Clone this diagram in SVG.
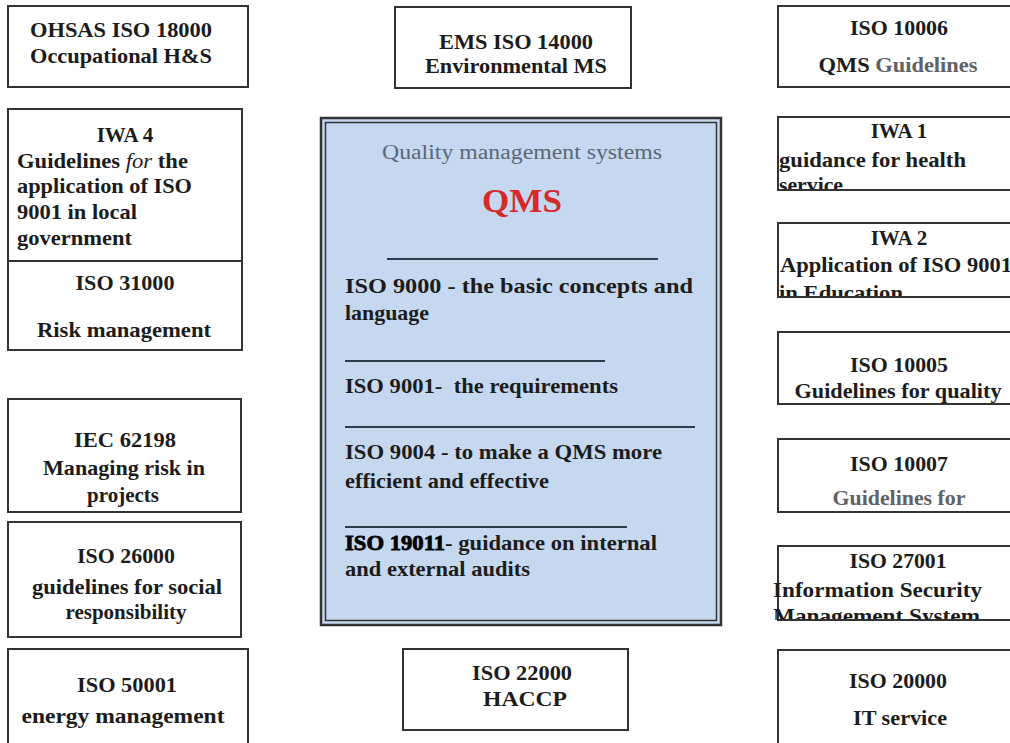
<svg xmlns="http://www.w3.org/2000/svg" width="1010" height="743" viewBox="0 0 1010 743">
<style>
.box{fill:#fff;stroke:#333;stroke-width:2}
.t{font-family:"Liberation Serif","Times New Roman",serif;font-weight:bold;font-size:21px;fill:#1c1c1c}
.c{text-anchor:middle}
.g{fill:#5f6266}
.q{font-family:"Liberation Serif","Times New Roman",serif;font-size:20px;fill:#5a6776;text-anchor:middle}
.qms{font-family:"Liberation Serif","Times New Roman",serif;font-weight:bold;font-size:34px;fill:#d42a2a;text-anchor:middle}
.sep{stroke:#2e3d4c;stroke-width:2}
</style>
<defs>
<clipPath id="cIWA1"><rect x="770" y="117" width="250" height="73"/></clipPath>
<clipPath id="cIWA2"><rect x="770" y="223" width="250" height="74"/></clipPath>
<clipPath id="c27001"><rect x="765" y="546" width="255" height="74"/></clipPath>
</defs>
<rect width="1010" height="743" fill="#fff"/>

<g id="ohsas">
<rect class="box" x="8" y="6" width="240" height="81"/>
<text class="t" x="30" y="37" textLength="182" lengthAdjust="spacingAndGlyphs">OHSAS ISO 18000</text>
<text class="t" x="30" y="63" textLength="182" lengthAdjust="spacingAndGlyphs">Occupational H&amp;S</text>
</g>

<g id="iwa4">
<rect class="box" x="8" y="109" width="234" height="152"/>
<text class="t c" x="125" y="142">IWA 4</text>
<text class="t" x="17" y="168" textLength="171" lengthAdjust="spacingAndGlyphs">Guidelines <tspan font-style="italic" font-weight="normal">for</tspan> the</text>
<text class="t" x="17" y="193" textLength="175" lengthAdjust="spacingAndGlyphs">application of ISO</text>
<text class="t" x="17" y="219" textLength="120" lengthAdjust="spacingAndGlyphs">9001 in local</text>
<text class="t" x="17" y="245" textLength="115" lengthAdjust="spacingAndGlyphs">government</text>
</g>

<g id="iso31000">
<rect class="box" x="8" y="261" width="234" height="89"/>
<text class="t c" x="125" y="290" textLength="99" lengthAdjust="spacingAndGlyphs">ISO 31000</text>
<text class="t c" x="124" y="337" textLength="174" lengthAdjust="spacingAndGlyphs">Risk management</text>
</g>

<g id="iec62198">
<rect class="box" x="8" y="399" width="233" height="113"/>
<text class="t c" x="125" y="447" textLength="102" lengthAdjust="spacingAndGlyphs">IEC 62198</text>
<text class="t c" x="124" y="475" textLength="162" lengthAdjust="spacingAndGlyphs">Managing risk in</text>
<text class="t c" x="123" y="502">projects</text>
</g>

<g id="iso26000">
<rect class="box" x="8" y="522" width="233" height="115"/>
<text class="t c" x="126" y="563" textLength="98" lengthAdjust="spacingAndGlyphs">ISO 26000</text>
<text class="t c" x="127" y="594" textLength="190" lengthAdjust="spacingAndGlyphs">guidelines for social</text>
<text class="t c" x="126" y="619">responsibility</text>
</g>

<g id="iso50001">
<rect class="box" x="8" y="649" width="240" height="110"/>
<text class="t c" x="127" y="692" textLength="100" lengthAdjust="spacingAndGlyphs">ISO 50001</text>
<text class="t c" x="123" y="723" textLength="203" lengthAdjust="spacingAndGlyphs">energy management</text>
</g>

<g id="ems">
<rect class="box" x="395" y="7" width="236" height="81"/>
<text class="t c" x="516" y="49" textLength="154" lengthAdjust="spacingAndGlyphs">EMS ISO 14000</text>
<text class="t c" x="516" y="73" textLength="182" lengthAdjust="spacingAndGlyphs">Environmental MS</text>
</g>

<g id="qms">
<rect x="321" y="118" width="400" height="507" fill="#c6d8ef" stroke="#333" stroke-width="2.5"/>
<rect x="325.5" y="122.5" width="391" height="498" fill="none" stroke="#333" stroke-width="1.5"/>
<text class="q" x="522" y="159" textLength="280" lengthAdjust="spacingAndGlyphs">Quality management systems</text>
<text class="qms" x="522" y="212" textLength="80" lengthAdjust="spacingAndGlyphs">QMS</text>
<line class="sep" x1="387" y1="259" x2="658" y2="259"/>
<text class="t" x="345" y="293" font-size="20" textLength="348" lengthAdjust="spacingAndGlyphs">ISO 9000 - the basic concepts and</text>
<text class="t" x="345" y="320" font-size="20" textLength="84" lengthAdjust="spacingAndGlyphs">language</text>
<line class="sep" x1="345" y1="361" x2="605" y2="361"/>
<text class="t" x="345" y="393" font-size="20" textLength="273" lengthAdjust="spacingAndGlyphs" xml:space="preserve">ISO 9001-  the requirements</text>
<line class="sep" x1="345" y1="427" x2="695" y2="427"/>
<text class="t" x="345" y="459" font-size="20" textLength="317" lengthAdjust="spacingAndGlyphs">ISO 9004 - to make a QMS more</text>
<text class="t" x="345" y="488" font-size="20" textLength="204" lengthAdjust="spacingAndGlyphs">efficient and effective</text>
<line class="sep" x1="345" y1="527" x2="627" y2="527"/>
<text class="t" x="345" y="550" font-size="20" textLength="312" lengthAdjust="spacingAndGlyphs"><tspan fill="#000" stroke="#000" stroke-width="0.8">ISO 19011</tspan>- guidance on internal</text>
<text class="t" x="345" y="576" font-size="20" textLength="185" lengthAdjust="spacingAndGlyphs">and external audits</text>
</g>

<g id="iso22000">
<rect class="box" x="403" y="649" width="225" height="81"/>
<text class="t c" x="522" y="680" textLength="100" lengthAdjust="spacingAndGlyphs">ISO 22000</text>
<text class="t c" x="525" y="706" textLength="84" lengthAdjust="spacingAndGlyphs">HACCP</text>
</g>

<g id="iso10006">
<rect class="box" x="778" y="6" width="245" height="81"/>
<text class="t c" x="899" y="35" textLength="98" lengthAdjust="spacingAndGlyphs">ISO 10006</text>
<text class="t c" x="898" y="72" textLength="159" lengthAdjust="spacingAndGlyphs">QMS <tspan class="g">Guidelines</tspan></text>
</g>

<g id="iwa1">
<rect class="box" x="778" y="117" width="245" height="73"/>
<g clip-path="url(#cIWA1)">
<text class="t c" x="899" y="138">IWA 1</text>
<text class="t" x="779" y="167" textLength="187" lengthAdjust="spacingAndGlyphs">guidance for health</text>
<text class="t" x="779" y="192" textLength="64" lengthAdjust="spacingAndGlyphs">service</text>
</g>
<line x1="778" y1="190" x2="1010" y2="190" stroke="#333" stroke-width="2"/>
</g>

<g id="iwa2">
<rect class="box" x="778" y="223" width="245" height="74"/>
<g clip-path="url(#cIWA2)">
<text class="t c" x="899" y="245">IWA 2</text>
<text class="t" x="780" y="272" textLength="232" lengthAdjust="spacingAndGlyphs">Application of ISO 9001</text>
<text class="t" x="779" y="300" textLength="124" lengthAdjust="spacingAndGlyphs">in Education</text>
</g>
<line x1="778" y1="297" x2="1010" y2="297" stroke="#333" stroke-width="2"/>
</g>

<g id="iso10005">
<rect class="box" x="778" y="332" width="245" height="72"/>
<text class="t c" x="899" y="372" textLength="98" lengthAdjust="spacingAndGlyphs">ISO 10005</text>
<text class="t c" x="898" y="398" textLength="207" lengthAdjust="spacingAndGlyphs">Guidelines for quality</text>
</g>

<g id="iso10007">
<rect class="box" x="778" y="439" width="245" height="73"/>
<text class="t c" x="899" y="471" textLength="98" lengthAdjust="spacingAndGlyphs">ISO 10007</text>
<text class="t c g" x="899" y="505" textLength="133" lengthAdjust="spacingAndGlyphs">Guidelines for</text>
</g>

<g id="iso27001">
<rect class="box" x="778" y="546" width="245" height="74"/>
<g clip-path="url(#c27001)">
<text class="t c" x="898" y="568" textLength="97" lengthAdjust="spacingAndGlyphs">ISO 27001</text>
<text class="t" x="773" y="597" textLength="209" lengthAdjust="spacingAndGlyphs">Information Security</text>
<text class="t" x="773" y="623" textLength="207" lengthAdjust="spacingAndGlyphs">Management System</text>
</g>
<line x1="778" y1="620" x2="1010" y2="620" stroke="#333" stroke-width="2"/>
</g>

<g id="iso20000">
<rect class="box" x="778" y="650" width="245" height="110"/>
<text class="t c" x="898" y="688" textLength="98" lengthAdjust="spacingAndGlyphs">ISO 20000</text>
<text class="t c" x="900" y="725" textLength="94" lengthAdjust="spacingAndGlyphs">IT service</text>
</g>

<g id="connectors"></g>
</svg>
